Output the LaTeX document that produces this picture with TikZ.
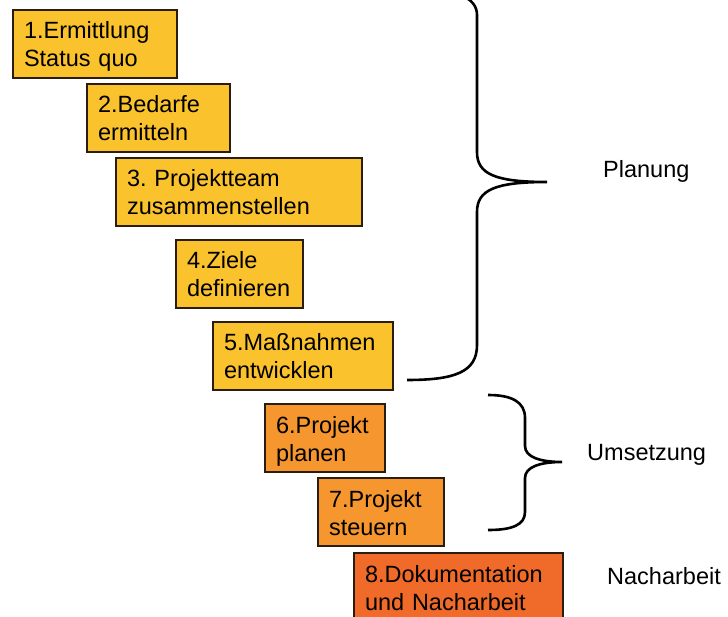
\documentclass[tikz,border=0pt]{standalone}
\usepackage{fontspec}
\setmainfont{Liberation Sans}
\definecolor{yel}{HTML}{FAC22C}
\definecolor{org}{HTML}{F5962F}
\definecolor{dorg}{HTML}{F06A2A}
\definecolor{edge}{HTML}{2A1C0E}
\begin{document}
\begin{tikzpicture}[x=1pt,y=1pt,
  stepbox/.style={draw=edge, line width=2pt, anchor=north west, align=left,
    inner xsep=11pt, inner ysep=0pt, text height=29pt, text depth=39pt,
    font=\fontsize{23.5pt}{28pt}\selectfont},
  brace/.style={draw=black, line width=2.6pt},
  lbl/.style={anchor=base west, inner sep=0pt, font=\fontsize{23.5pt}{28pt}\selectfont}]
\useasboundingbox (0,0) rectangle (728,-617);
\clip (0,0) rectangle (728,-617);
\node[stepbox, fill=yel, text width=142pt] (b1) at (12,-9) {1.Ermittlung\\Status quo};
\node[stepbox, fill=yel, text width=121pt] (b2) at (86,-83) {2.Bedarfe\\ermitteln};
\node[stepbox, fill=yel, text width=224pt] (b3) at (115,-157) {3.\ Projektteam\\zusammenstellen};
\node[stepbox, fill=yel, text width=105pt] (b4) at (175,-239) {4.Ziele\\definieren};
\node[stepbox, fill=yel, text width=158pt] (b5) at (212,-321) {5.Maßnahmen\\entwicklen};
\node[stepbox, fill=org, text width=98pt] (b6) at (264,-403) {6.Projekt\\planen};
\node[stepbox, fill=org, text width=104pt] (b7) at (317,-477) {7.Projekt\\steuern};
\node[stepbox, fill=dorg, text width=187pt] (b8) at (353,-552) {8.Dokumentation\\und Nacharbeit};
% braces
\coordinate (p1a) at (407,-380);
\coordinate (p1tip) at (547,-182);
\coordinate (p1b) at (407,12);
\draw[brace] (p1a) .. controls (455,-380) and (477,-372) .. (477,-345)
  -- (477,-212) .. controls (477,-190) and (495,-182) .. (p1tip)
  .. controls (495,-182) and (477,-174) .. (477,-152)
  -- (477,-15) .. controls (477,3) and (455,12) .. (p1b);
\coordinate (p2a) at (488,-395);
\coordinate (p2tip) at (562,-462);
\coordinate (p2b) at (488,-530);
\draw[brace] (p2a) .. controls (512,-395) and (525,-402) .. (525,-418)
  -- (525,-446) .. controls (525,-457) and (540,-462) .. (p2tip)
  .. controls (540,-462) and (525,-467) .. (525,-478)
  -- (525,-512) .. controls (525,-525) and (512,-530) .. (p2b);
\node[lbl] (l1) at (603,-178) {Planung};
\node[lbl] (l2) at (587,-460) {Umsetzung};
\node[lbl] (l3) at (607,-584) {Nacharbeit};
\end{tikzpicture}
\end{document}
